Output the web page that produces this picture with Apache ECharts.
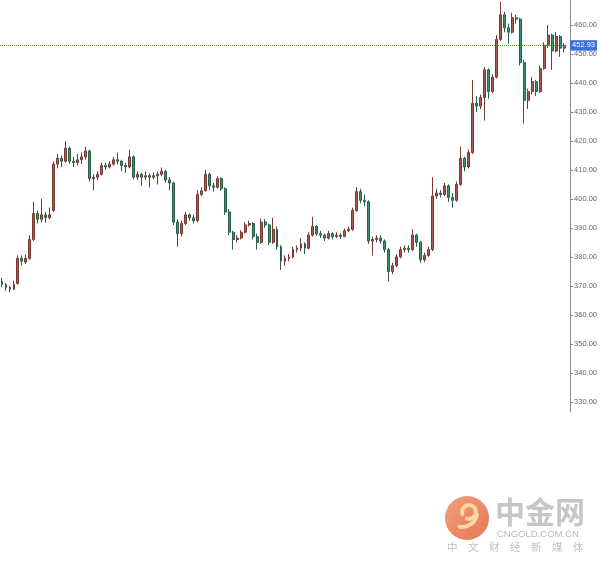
<!DOCTYPE html>
<html>
<head>
<meta charset="utf-8">
<script src="https://cdn.jsdelivr.net/npm/echarts@6/dist/echarts.min.js"></script>
<style>html,body{margin:0;padding:0;background:#fff;}#c{width:600px;height:565px;}</style>
</head>
<body>
<div id="c"></div>
<script>
// [open, close, low, high]
const candles = [
[371.5,370.5,369.5,372.8],[370.5,369.5,368.3,371],[369.5,368.8,367.8,370],[368.8,370.5,368.5,371.8],
[370.8,379.5,370.5,380.5],[379.5,378.5,377,380.5],[378.2,379.5,377.5,380.8],[379.5,386,379,387.5],
[386,395,385.5,399],[395,393,391.5,396],[393,394.5,392,400],[394.5,393.5,391.8,395.5],
[393.5,394.5,393,397],[396,412,395.5,413],[412,414,410.5,415.5],[414,413,411,415],
[413,417.5,412.5,420],[417.5,413,412,418],[413,412.5,411,414.5],[412.5,413.5,411.5,415.5],
[413.5,414.5,412,416],[414.5,416.5,413.5,418],[416.5,407,406,417],[407,407.5,403,408.5],
[407.5,408.5,406.5,409.5],[408.5,411.5,408,412.5],[411.5,411,410,412.5],[411,412,410.5,413],
[412,413.5,411.5,414.5],[413.5,413,412,416],[413,411.5,409.5,413.5],[411.5,411,409,412.5],
[411,414.5,410.5,417],[414.5,407.5,406.8,415],[407.5,408.5,406.5,409.5],[408.5,407.5,404.5,409],
[407.5,408,406.5,409.5],[408,407.5,404,408.8],[407.5,408,406.8,409.2],[408,408.5,405,409.5],
[408.5,409.5,407.8,410.8],[409.5,406.5,405.5,410],[406.5,405.5,403,407.5],[405.5,392,391,406],
[392,388,383.5,393],[388,391.5,387,392.5],[391.5,394.5,391,395.5],[394.5,393.5,392.5,395],
[393.5,392.5,391.5,394.5],[392.5,401.5,392,403],[401.5,402.8,401,404],[402.8,408.5,402.5,410],
[408.5,404.5,403,409],[404.5,404,402.5,405.5],[404,407,403.5,407.8],[407,403.5,402.8,407.5],
[403.5,395.5,394.5,404],[395.5,388.5,387.5,396.5],[388.5,386,382.5,389],[386,386.5,385,387.5],
[386.5,388.5,386,389.2],[388.5,391,388,392],[391,391.5,390.5,392.5],[391.5,387,386,392],
[387,385,382.5,388],[385,392,384.5,393.2],[392,391,390,393],[391,385,384,391.5],
[385,389.5,384.5,393.5],[389.5,383.5,382.5,390.5],[383.5,378.5,375.5,384],[378.5,379.5,377,380.5],
[379.5,380,378.5,381],[380,382.5,379.5,383.5],[382.5,383,381.5,384],[383,384.5,382,386.5],
[384.5,383,381,385],[383,387.5,382.5,388.5],[387.5,390.5,387,393.8],[390.5,388,387.2,391],
[388,387.5,386.5,389],[387.5,386.5,385.5,388],[386.5,388,386,389],[388,387,386,388.5],
[387,387.5,386.5,388.5],[387.5,387,386.2,388.2],[387,389,386.8,389.8],[389,389.5,388.5,390.5],
[389.5,396,389,397],[396,402.5,395.5,404],[402.5,399.5,398.5,403.5],[399.5,399,397.5,401.5],
[399,385.5,384.5,399.5],[385.5,386,380.5,387],[386,386.5,385,387.5],[386.5,385.5,384.5,387.5],
[385.5,382.5,381.5,386],[382.5,375,371.5,383],[375,377,374,378],[377,380,376.5,381],
[380,382.5,379.5,383.5],[382.5,383,381.5,384],[383,382.5,381.5,384],[382.5,387.5,382,389.5],
[387.5,385,383.5,388],[385,379,378,385.5],[379,380.5,378.2,381.5],[380.5,382.5,380,383.5],
[382.5,401,382,407.5],[401,402,400,403.5],[402,401.5,400.5,403],[401.5,404.5,401,405.5],
[404.5,400.5,399,405],[400.5,399.5,397,402],[399.5,405,399,406],[405,414,404.5,418],
[414,411,409.5,414.5],[411,416,410.5,417],[416,433,415.5,441],[433,432,430,435.5],
[432,435,431,436],[435,444.5,427,445.5],[444.5,437,434.5,445],[437,442,436.5,443],
[442,455,441.5,456.5],[455,463.5,454.5,468],[463.5,459,457.5,464.5],[459,457.5,453.5,460.5],
[457.5,462.5,457,464.2],[462.5,462,460.5,463.5],[462,447,446,462.5],[447,434,426,448],
[434,437,431,438],[437,440.5,436,442],[440.5,437,435.5,441],[437,445,436.5,446],
[445,453,444.5,454],[453,456.5,452,460],[456.5,451,444.5,457],[451,456,450.5,457.5],
[456,452,449,456.5],[452,452.93,450.5,453.8]
];
const categories = candles.map((d, i) => 'b' + i);
const tickValues = [330,340,350,360,370,380,390,400,410,420,430,440,450,460];
const lastPrice = 452.93;

const chart = echarts.init(document.getElementById('c'), null, {renderer: 'canvas'});
chart.setOption({
  animation: false,
  backgroundColor: '#ffffff',
  grid: {left: 0, right: 33, top: 0, bottom: 153},
  xAxis: {
    type: 'category', data: categories, boundaryGap: true,
    axisLine: {show: false}, axisTick: {show: false}, axisLabel: {show: false}, splitLine: {show: false}
  },
  yAxis: {
    type: 'value', position: 'right', offset: 4, min: 326.5, max: 468.6, scale: true,
    axisLine: {show: true, lineStyle: {color: '#8a8a8a', width: 1}},
    axisTick: {show: true, length: 3, customValues: tickValues, lineStyle: {color: '#8a8a8a'}},
    axisLabel: {show: true, customValues: tickValues, margin: 4, fontSize: 7.5, color: '#666',
      fontFamily: 'Liberation Sans', formatter: v => v.toFixed(2)},
    splitLine: {show: false}
  },
  series: [{
    type: 'candlestick', data: candles, barWidth: '60%',
    itemStyle: {color: '#ad584e', color0: '#37946a', borderColor: '#773a33', borderColor0: '#2a5e47', borderWidth: 1},
    markLine: {
      silent: true, symbol: ['none', 'none'], animation: false,
      lineStyle: {color: '#5a7bc6', type: 'dotted', width: 1},
      label: {show: true, position: 'end', distance: 4, formatter: () => lastPrice.toFixed(2),
        backgroundColor: '#3f6fd8', color: '#fff', fontSize: 7.5, fontFamily: 'Liberation Sans',
        padding: [1.5, 2, 1, 2]},
      data: [{yAxis: lastPrice}]
    }
  }],
  graphic: [
    {type: 'circle', shape: {cx: 467, cy: 518, r: 22}, silent: true,
     style: {fill: new echarts.graphic.LinearGradient(0, 0, 1, 1, [{offset: 0, color: '#f2a07c'}, {offset: 1, color: '#e67558'}])}},
    {type: 'arc', silent: true, shape: {cx: 469, cy: 512, r: 7, startAngle: Math.PI * 0.9, endAngle: Math.PI * 2.6},
     style: {fill: 'none', stroke: '#f8d99e', lineWidth: 4, lineCap: 'round'}},
    {type: 'arc', silent: true, shape: {cx: 462, cy: 512, r: 15, startAngle: Math.PI * 0.05, endAngle: Math.PI * 0.55},
     style: {fill: 'none', stroke: '#f8d99e', lineWidth: 4, lineCap: 'round'}},
    {type: 'text', silent: true, x: 495, y: 512,
     style: {text: '中金网', fontSize: 30, fontWeight: 'bold', fontFamily: 'Noto Sans CJK SC', fill: '#c6c6c6', verticalAlign: 'middle'}},
    {type: 'text', silent: true, x: 497, y: 534,
     style: {text: 'CNGOLD.COM.CN', fontSize: 9.5, fontFamily: 'Liberation Sans', fill: '#b9b9b9', verticalAlign: 'middle'}},
    {type: 'text', silent: true, x: 447, y: 547,
     style: {text: '中　文　财　经　新　媒　体', fontSize: 10.5, fontFamily: 'Noto Sans CJK SC', fill: '#c0c0c0', verticalAlign: 'middle'}}
  ]
});
</script>
</body>
</html>
